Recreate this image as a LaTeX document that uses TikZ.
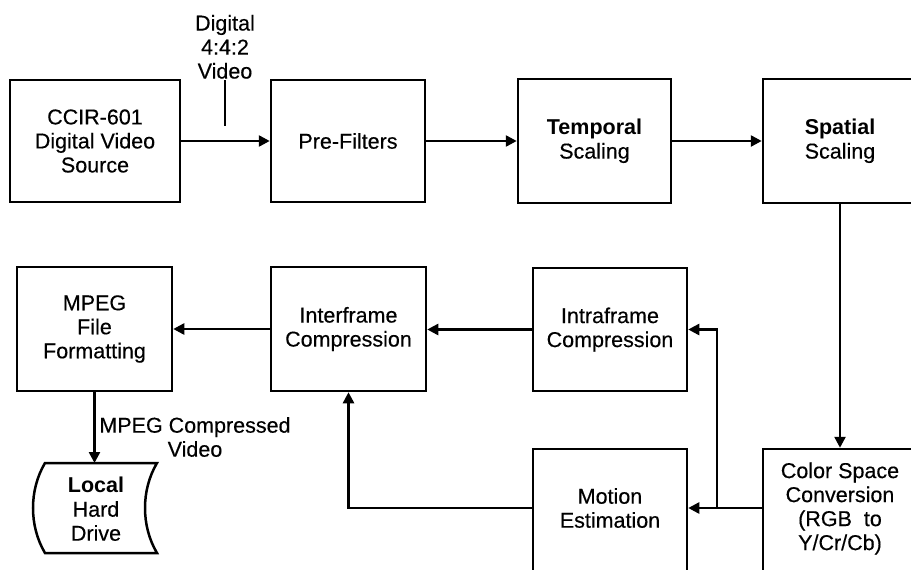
\documentclass[tikz,border=0pt]{standalone}
\usepackage{fontspec}
\setmainfont{Liberation Sans}[UprightFeatures={FakeBold=0.35}]
\usetikzlibrary{arrows.meta}
\begin{document}
\begin{tikzpicture}[x=1pt,y=-1pt,
  line width=2.5pt,
  box/.style={draw, rectangle, align=center, inner sep=0pt},
  txt/.style={align=center, inner sep=0pt},
  arr/.style={-{Triangle[length=11pt,width=11pt]}},
  every node/.append style={font=\fontsize{21.5}{24}\selectfont}
]
\useasboundingbox (0,0) rectangle (911,570);
\clip (0,0) rectangle (911,570);

% top row
\node[box, minimum width=170pt, minimum height=122pt] (ccir) at (95,141)
  {CCIR-601\\Digital Video\\Source};
\node[box, minimum width=154pt, minimum height=122pt] (pre) at (348,141)
  {Pre-Filters};
\node[box, minimum width=153pt, minimum height=124pt] (temp) at (594.5,141)
  {\textbf{Temporal}\\Scaling};
\node[box, minimum width=154pt, minimum height=124pt] (spat) at (840,141)
  {\textbf{Spatial}\\Scaling};

% middle row
\node[box, minimum width=155pt, minimum height=124pt] (mpeg) at (94.5,329)
  {MPEG\\File\\Formatting};
\node[box, minimum width=155pt, minimum height=124pt] (inter) at (348.5,329)
  {Interframe\\Compression};
\node[box, minimum width=154pt, minimum height=123pt] (intra) at (610,329.5)
  {Intraframe\\Compression};

% bottom row (boxes run past the lower edge)
\node[box, minimum width=154pt, minimum height=132pt] (motion) at (610,515) {};
\node[txt] (motiont) at (610,508) {Motion\\Estimation};
\node[box, minimum width=154pt, minimum height=132pt] (color) at (840,515) {};
\node[txt] (colort) at (840,508.5) {Color Space\\Conversion\\(RGB\ \ to\\Y/Cr/Cb)};

% stored data symbol
\node[txt] (disk) at (96,509) {\textbf{Local}\\Hard\\Drive};
\coordinate (disktop) at (94.5,463);
\draw (45,463) -- (157,463)
      .. controls (141,490) and (141,526) .. (157,553)
      -- (45,553)
      .. controls (29,526) and (29,490) .. (45,463) -- cycle;

% labels
\node[txt, anchor=south] (dig) at (225,80) {Digital\\4:4:2\\Video};
\coordinate (tickend) at (225,126);
\node[txt] (mcv) at (195,437) {MPEG Compressed\\Video};

% connectors
\draw (dig.south) -- (tickend);
\draw[arr] (ccir.east) -- (pre.west);
\draw[arr] (pre.east) -- (temp.west);
\draw[arr] (temp.east) -- (spat.west);
\draw[arr] (spat.south) -- (color.north);
\draw[arr] (color.west |- motiont) -- (motion.east |- motiont);
\coordinate (br) at (717,0 |- motiont);
\draw[arr] (br) |- (intra.east);
\draw[arr] (intra.west) -- (inter.east |- intra.west);
\draw[arr] (motion.west |- motiont) -| (inter.south);
\draw[arr] (inter.west) -- (mpeg.east);
\draw[arr] (mpeg.south) -- (disktop);
\end{tikzpicture}
\end{document}
